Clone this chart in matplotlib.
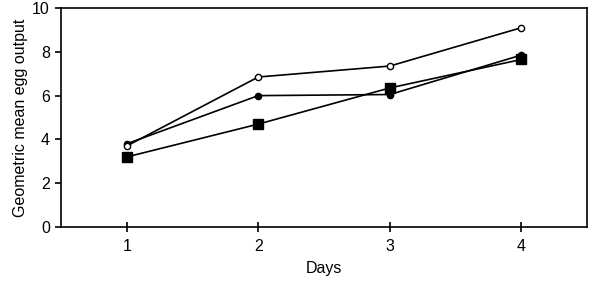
import matplotlib
matplotlib.use("Agg")
import matplotlib.pyplot as plt

days = [1, 2, 3, 4]
open_circles = [3.7, 6.85, 7.35, 9.1]
filled_circles = [3.8, 6.0, 6.05, 7.85]
squares = [3.2, 4.7, 6.35, 7.65]
yticks = [0, 2, 4, 6, 8, 10]

plt.rcParams['font.family'] = ['Liberation Sans', 'DejaVu Sans']
fig = plt.figure(figsize=(5.92, 2.81), dpi=100)
ax = fig.add_axes([0.103, 0.192, 0.8886, 0.7795])

ax.plot(days, squares, color='black', lw=1.2, marker='s', ms=7, mfc='black', mec='black')
ax.plot(days, filled_circles, color='black', lw=1.2, marker='o', ms=4.5, mfc='black', mec='black')
ax.plot(days, open_circles, color='black', lw=1.2, marker='o', ms=4.5, mfc='white', mec='black', mew=1)

ax.set_xlim(0.5, 4.5)
ax.set_ylim(0, 10)
ax.set_xticks(days)
ax.set_yticks(yticks)
ax.tick_params(axis='x', direction='inout', length=7, width=1.2, labelsize=11.5, pad=5)
ax.tick_params(axis='y', direction='out', length=4, width=1.2, labelsize=11.5, pad=4)
for s in ax.spines.values():
    s.set_linewidth(1.2)
ax.set_xlabel('Days', fontsize=11.5, labelpad=5)
ax.set_ylabel('Geometric mean egg output', fontsize=11.5, labelpad=3)

fig.savefig('out.png', dpi=100)
